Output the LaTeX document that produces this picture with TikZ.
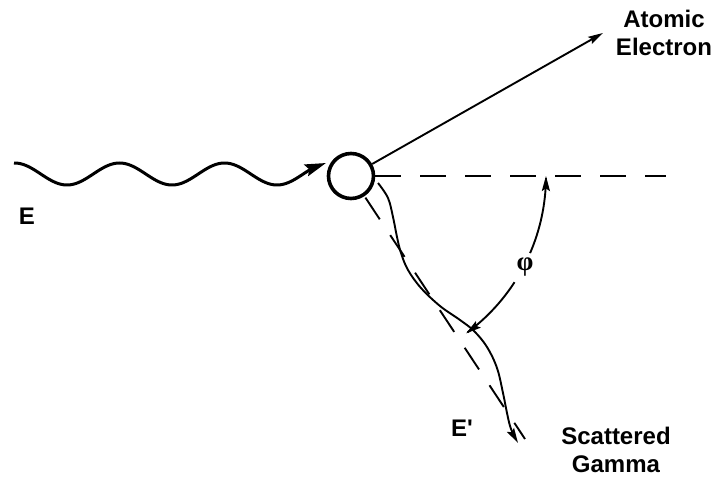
\documentclass[tikz,border=0pt]{standalone}
\usepackage{fontspec}
\setmainfont{Liberation Sans}
\newfontfamily\greekfont{Liberation Serif}
\usetikzlibrary{arrows.meta,calc}
\begin{document}
\begin{tikzpicture}[x=1pt,y=-1pt,
  lbl/.style={font=\fontsize{24}{28}\selectfont\bfseries, align=center, inner sep=0pt},
  bigtip/.style={-{Stealth[length=21pt,width=12pt,inset=3pt]}},
  tip/.style={-{Stealth[length=15pt,width=8pt,inset=2.5pt]}},
  thin line/.style={line width=1.9pt},
  dash line/.style={line width=1.9pt, dash pattern=on 26pt off 19pt}]
\useasboundingbox (0,0) rectangle (718,478);
% atom
\node[circle, draw, line width=3.6pt, minimum size=45pt, inner sep=0pt] (atom) at (351,176) {};
% incoming wave
\coordinate (wend) at (326,163);
\draw[line width=3pt, bigtip] plot[domain=14:314, samples=160] (\x,{174+11*cos(3.428571*(\x-67))}) -- (wend);
% atomic electron
\coordinate (ehead) at (603,33);
\draw[thin line, tip] (atom) -- (ehead);
% reference dashed lines
\coordinate (hend) at (666,176);
\draw[dash line] (atom.east) -- (hend);
\coordinate (dend) at (525,439);
\draw[dash line] (atom) ++(56.3:26) -- (dend);
% scattered gamma
\coordinate (gstart) at (378,183);
\coordinate (gend) at (518,443);
\draw[thin line, tip] plot[smooth, tension=0.6] coordinates {(378,183) (388,198) (393,217) (397,237) (401,253) (408,270) (421,288) (440,306) (460,320) (474,331) (487,347) (497,368) (503,393) (507,413) (511,429) (518,443)};
% angle arc
\begin{scope}[shift={(atom.center)}]
  \draw[thin line, tip] plot[domain=23.3:0, samples=40] (\x:195);
  \draw[thin line, tip] plot[domain=33:53.8, samples=40] (\x:195);
\end{scope}
\node[font=\greekfont\fontsize{27}{30}\selectfont\bfseries, inner sep=0pt] (phi) at (525,267) {φ};
% labels
\node[lbl] (elec) at (664,33) {Atomic\\Electron};
\node[lbl] (E) at (27,216) {E};
\node[lbl] (Ep) at (462,428) {E\textquotesingle};
\node[lbl] (sg) at (616,450) {Scattered\\Gamma};
\end{tikzpicture}
\end{document}
